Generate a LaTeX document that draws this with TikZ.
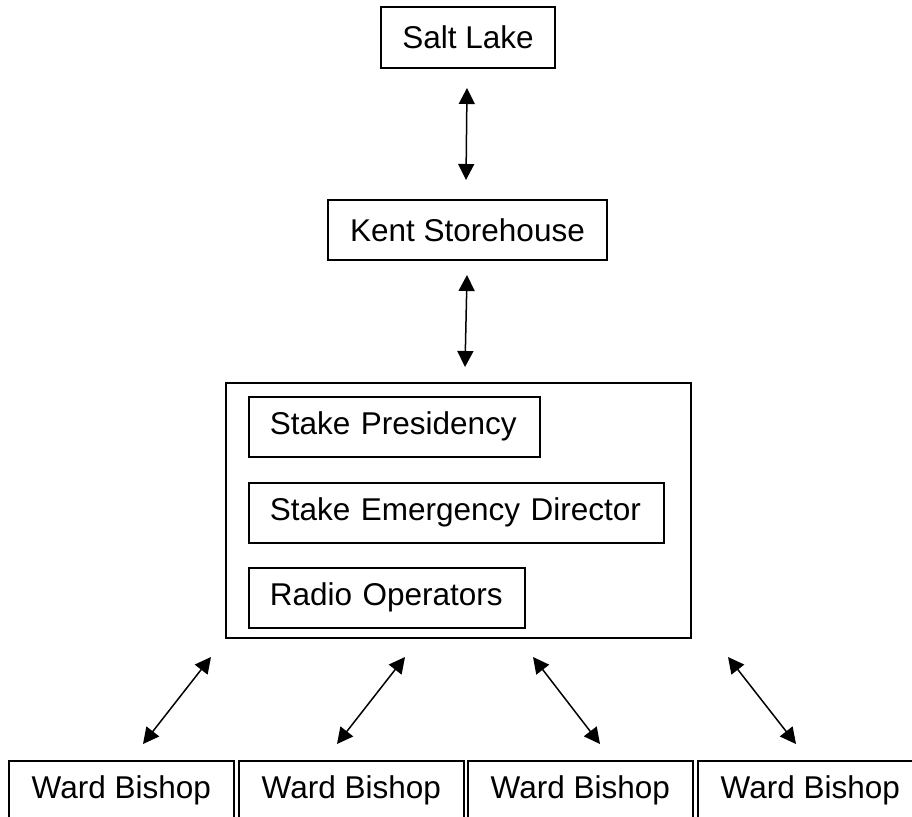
\documentclass[tikz,border=0pt]{standalone}
\usepackage{fontspec}
\setmainfont{Liberation Sans}
\usetikzlibrary{arrows.meta}
\tikzset{
  box/.style={draw, line width=1.6pt, inner sep=0pt, font=\fontsize{31.5}{36}\selectfont},
  inbox/.style={box, anchor=north west, align=left, inner xsep=21pt},
  link/.style={line width=1.5pt, {Triangle[length=16pt,width=16pt]}-{Triangle[length=16pt,width=16pt]}}
}
\begin{document}
\begin{tikzpicture}[x=1pt,y=-1pt]
\useasboundingbox (0,0) rectangle (912,816);
\clip (0,0) rectangle (912,816);
% top boxes
\node[box, minimum width=174pt, minimum height=61pt] (salt) at (468,37.5) {Salt Lake};
\node[box, minimum width=279pt, minimum height=60pt] (kent) at (467.5,230) {Kent Storehouse};
% group
\node[draw, line width=1.6pt, minimum width=465pt, minimum height=255pt, anchor=north west, inner sep=0pt] (stake) at (225,382) {};
\node[inbox, text width=249pt, minimum height=60pt] (pres) at (248,396) {Stake Presidency};
\node[inbox, text width=373pt, minimum height=60pt] (sed) at (248,482) {Stake Emergency Director};
\node[inbox, text width=234pt, minimum height=60pt] (radio) at (248,567) {Radio Operators};
% wards
\node[box, minimum width=225pt, minimum height=60pt, anchor=north west] (w1) at (8,760) {Ward Bishop};
\node[box, minimum width=225pt, minimum height=60pt, anchor=north west] (w2) at (238,760) {Ward Bishop};
\node[box, minimum width=225pt, minimum height=60pt, anchor=north west] (w3) at (467,760) {Ward Bishop};
\node[box, minimum width=225pt, minimum height=60pt, anchor=north west] (w4) at (697,760) {Ward Bishop};
% arrow endpoints
\coordinate (a1t) at (467,88);  \coordinate (a1b) at (466,180);
\coordinate (a2t) at (467,275); \coordinate (a2b) at (465,367);
\coordinate (bAt) at (211,657); \coordinate (bAb) at (143,744);
\coordinate (bBt) at (405,657); \coordinate (bBb) at (337,744);
\coordinate (bCt) at (533,657); \coordinate (bCb) at (600,744);
\coordinate (bDt) at (728,657); \coordinate (bDb) at (796,744);
\draw[link] (a1t) -- (a1b);
\draw[link] (a2t) -- (a2b);
\draw[link] (bAt) -- (bAb);
\draw[link] (bBt) -- (bBb);
\draw[link] (bCt) -- (bCb);
\draw[link] (bDt) -- (bDb);
\end{tikzpicture}
\end{document}
